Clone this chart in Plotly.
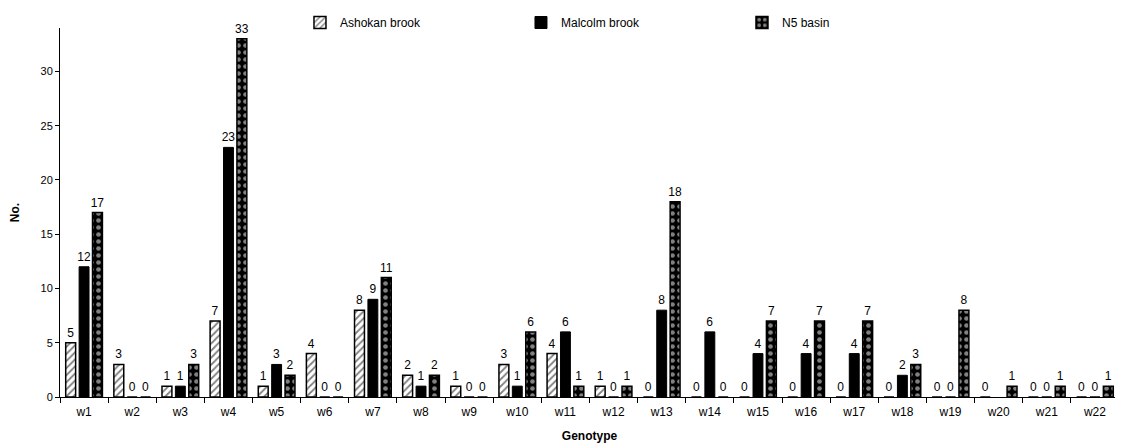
import plotly.graph_objects as go

categories = ["w1", "w2", "w3", "w4", "w5", "w6", "w7", "w8", "w9", "w10", "w11",
              "w12", "w13", "w14", "w15", "w16", "w17", "w18", "w19", "w20", "w21", "w22"]
ashokan = [5, 3, 1, 7, 1, 4, 8, 2, 1, 3, 4, 1, 0, 0, 0, 0, 0, 0, 0, 0, 0, 0]
malcolm = [12, 0, 1, 23, 3, 0, 9, 1, 0, 1, 6, 0, 8, 6, 4, 4, 4, 2, 0, None, 0, 0]
n5 = [17, 0, 3, 33, 2, 0, 11, 2, 0, 6, 1, 1, 18, 0, 7, 7, 7, 3, 8, 1, 1, 1]
y_ticks = [0, 5, 10, 15, 20, 25, 30]

font = "Liberation Sans, Arial, sans-serif"

def labels(vals):
    return ["" if v is None else str(v) for v in vals]

fig = go.Figure()
fig.add_trace(go.Bar(
    name="Ashokan brook", x=categories, y=ashokan, text=labels(ashokan),
    marker=dict(color="white", line=dict(color="black", width=1.5),
                pattern=dict(shape="/", fgcolor="black", bgcolor="white", size=5, solidity=0.35)),
))
fig.add_trace(go.Bar(
    name="Malcolm brook", x=categories, y=malcolm, text=labels(malcolm),
    marker=dict(color="black", line=dict(color="black", width=1)),
))
fig.add_trace(go.Bar(
    name="N5 basin", x=categories, y=n5, text=labels(n5),
    marker=dict(color="black", line=dict(color="black", width=1.5),
                pattern=dict(shape=".", fgcolor="white", bgcolor="black", size=7, solidity=0.35)),
))
fig.update_traces(textposition="outside", cliponaxis=False, constraintext="none",
                  textfont=dict(family=font, size=12, color="black"))

fig.update_layout(
    width=1123, height=448,
    margin=dict(l=52, r=12, t=20, b=59, autoexpand=False),
    paper_bgcolor="white", plot_bgcolor="white",
    barmode="group", bargap=0.165, bargroupgap=0.26,
    font=dict(family=font, size=11, color="black"),
    showlegend=True,
    legend=dict(orientation="h", xref="container", yref="container",
                x=0.26, y=1.0, xanchor="left", yanchor="top",
                entrywidth=176, entrywidthmode="pixels", itemwidth=30,
                font=dict(family=font, size=12, color="black"),
                bgcolor="rgba(0,0,0,0)"),
    xaxis=dict(type="category", range=[-0.5, 21.5], showline=True, linecolor="black",
               linewidth=1, ticks="outside", tickson="boundaries", ticklen=5,
               tickcolor="black", showgrid=False, zeroline=False, ticklabelstandoff=4,
               tickfont=dict(family=font, size=12),
               title=dict(text="<b>Genotype</b>", font=dict(family=font, size=12), standoff=13)),
    yaxis=dict(range=[0, 34], tickvals=y_ticks, showline=True, linecolor="black",
               linewidth=1, ticks="outside", ticklen=4, tickcolor="black",
               showgrid=False, zeroline=False, tickfont=dict(family=font, size=11),
               title=dict(text="<b>No.</b>", font=dict(family=font, size=12), standoff=26)),
)

fig.write_html("out.html")
